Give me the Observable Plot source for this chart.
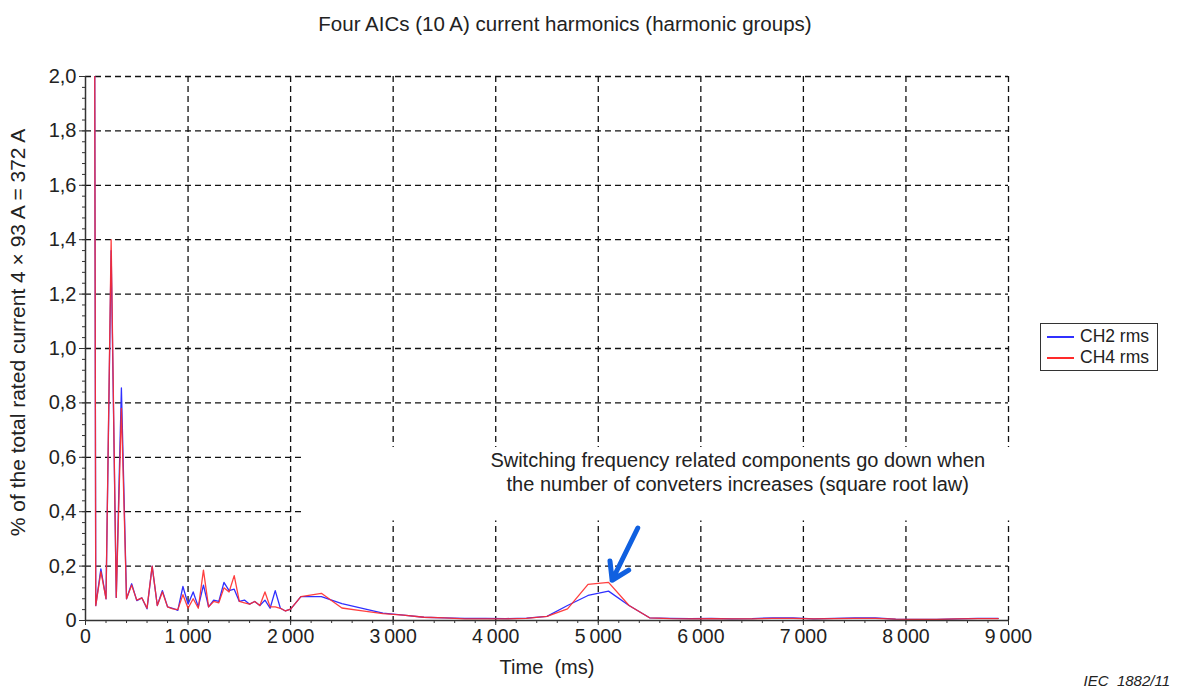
<!DOCTYPE html>
<html><head><meta charset="utf-8">
<script src="https://cdn.jsdelivr.net/npm/d3@7"></script>
<script src="https://cdn.jsdelivr.net/npm/@observablehq/plot@0.6"></script>
<style>
body{margin:0;background:#fff;font-family:"Liberation Sans",Arial,sans-serif;color:#222;}
#wrap{position:relative;width:1186px;height:690px;overflow:hidden;}
#chart{position:absolute;left:0;top:0;}
.title{position:absolute;left:0;width:1130px;top:12px;text-align:center;font-size:20.5px;}
.legend{position:absolute;left:1040px;top:323px;width:118px;height:48px;border:1.5px solid #333;box-sizing:border-box;font-size:17.5px;}
.legend .row{position:absolute;left:6px;height:21px;line-height:21px;white-space:nowrap;}
.legend .sw{display:inline-block;width:27px;height:0;border-top:2px solid;vertical-align:middle;margin-right:6px;}
.iec{position:absolute;right:16px;top:673px;font-size:15px;line-height:15px;font-style:italic;white-space:pre;}
</style></head>
<body>
<div id="wrap">
  <div id="chart"></div>
  <div class="title">Four AICs (10 A) current harmonics (harmonic groups)</div>
  <div class="legend" id="legend"></div>
  <div class="iec">IEC  1882/11</div>
</div>
<script>
// ---- data ----
const times = [50,100,150,200,250,300,350,400,450,500,550,600,650,700,750,800,850,900,950,1000,
  1050,1100,1150,1200,1250,1300,1350,1400,1450,1500,1550,1600,1650,1700,1750,1800,1850,1900,1950,2000,
  2100,2300,2500,2700,2900,3100,3300,3500,3700,3900,4100,4300,4500,4700,4900,5100,5300,5500,
  5700,5900,6100,6300,6500,6700,6900,7100,7300,7500,7700,7900,8100,8300,8500,8700,8900];
const ch2 = [10,0.055,0.19,0.08,1.36,0.085,0.855,0.08,0.135,0.073,0.083,0.043,0.2,0.055,0.11,0.05,0.045,0.037,0.125,0.06,
  0.105,0.05,0.13,0.05,0.075,0.07,0.14,0.11,0.115,0.07,0.075,0.06,0.07,0.055,0.075,0.045,0.11,0.045,0.035,0.042,
  0.088,0.088,0.062,0.045,0.027,0.02,0.012,0.01,0.008,0.008,0.007,0.009,0.015,0.055,0.092,0.108,0.055,0.01,
  0.008,0.007,0.008,0.006,0.007,0.01,0.01,0.006,0.008,0.01,0.01,0.005,0.004,0.004,0.006,0.008,0.008];
const ch4 = [10,0.055,0.18,0.08,1.40,0.085,0.78,0.08,0.13,0.075,0.083,0.045,0.2,0.055,0.105,0.05,0.043,0.04,0.095,0.045,
  0.08,0.045,0.185,0.05,0.07,0.065,0.12,0.105,0.165,0.07,0.065,0.06,0.07,0.055,0.105,0.05,0.05,0.045,0.035,0.042,
  0.088,0.1,0.046,0.035,0.025,0.02,0.012,0.01,0.006,0.006,0.006,0.008,0.015,0.043,0.133,0.14,0.055,0.01,
  0.007,0.006,0.007,0.006,0.006,0.008,0.008,0.006,0.007,0.008,0.008,0.005,0.004,0.004,0.006,0.007,0.007];
const seriesNames = ["CH2 rms","CH4 rms"];
const seriesColors = ["#3030ff","#ff2a2a"];
const xMajor = [0,1000,2000,3000,4000,5000,6000,7000,8000,9000];
const xMinor = d3.range(0,9001,200);
const yMajor = [0,0.2,0.4,0.6,0.8,1.0,1.2,1.4,1.6,1.8,2.0];
const yMinor = d3.range(0,2.001,0.04);
const xGrid = [1000,2000,3000,4000,5000,6000,7000,8000,9000];
const yGrid = [0.2,0.4,0.6,0.8,1.0,1.2,1.4,1.6,1.8,2.0];
const annotation = ["Switching frequency related components go down when\nthe number of conveters increases (square root law)"];
const annotationPos = {x:6360, y:0.547};
const maskBox = [{x1:2110, x2:9100, y1:0.366, y2:0.636}];
const arrowData = [{x1:5385, y1:0.34, x2:5135, y2:0.148}];
const yLabel = "% of the total rated current 4 \u00d7 93 A = 372 A";
const xLabel = "Time\u00a0 (ms)";

const rows = times.map((t,i)=>({t, ch2:ch2[i], ch4:ch4[i]}));
const fmtX = d => d === 0 ? "0" : d3.format(",")(d).replace(/,/g, "\u2009");
const fmtY = d => d === 0 ? "0" : d.toFixed(1).replace(".", ",");

const grid = {stroke:"#111", strokeDasharray:"6,4", strokeWidth:1.3, strokeOpacity:1};
const plot = Plot.plot({
  width:1186, height:690,
  marginLeft:85, marginRight:178, marginTop:76, marginBottom:70,
  x:{domain:[0,9000]}, y:{domain:[0,2]},
  style:{fontFamily:"Liberation Sans, Arial, sans-serif", fontSize:"19px", color:"#222", background:"white"},
  marks:[
    Plot.ruleX(xGrid, grid),
    Plot.ruleY(yGrid, grid),
    Plot.rect(maskBox, {x1:"x1", x2:"x2", y1:"y1", y2:"y2", fill:"white"}),
    Plot.line(rows, {x:"t", y:"ch2", stroke:seriesColors[0], strokeWidth:1.3, clip:true}),
    Plot.line(rows, {x:"t", y:"ch4", stroke:seriesColors[1], strokeWidth:1.3, strokeOpacity:0.9, clip:true}),
    Plot.axisX({ticks:xMinor, tickSize:3, tickFormat:()=>"", stroke:"#333"}),
    Plot.axisX({ticks:xMajor, tickSize:5, tickPadding:4, tickFormat:fmtX, label:null, stroke:"#333", fontSize:19.5}),
    Plot.axisY({ticks:yMinor, tickSize:3, tickFormat:()=>"", stroke:"#333"}),
    Plot.axisY({ticks:yMajor, tickSize:6, tickPadding:3, tickFormat:fmtY, label:null, stroke:"#333", fontSize:20}),
    Plot.ruleY([0], {stroke:"#333", strokeWidth:1.5}),
    Plot.ruleX([0], {stroke:"#333", strokeWidth:1.5}),
    Plot.text(annotation, {x:()=>annotationPos.x, y:()=>annotationPos.y, fontSize:20, lineHeight:1.2, fill:"#222"}),
    Plot.arrow(arrowData, {x1:"x1", y1:"y1", x2:"x2", y2:"y2", stroke:"#1060e0", strokeWidth:5, headLength:16, headAngle:65}),
    Plot.text([yLabel], {frameAnchor:"left", textAnchor:"middle", dx:-67, dy:-16, rotate:-90, fontSize:21, fill:"#222"}),
    Plot.text([xLabel], {frameAnchor:"bottom", dy:53, fontSize:20, fill:"#222"})
  ]
});
document.getElementById("chart").appendChild(plot);

const lg = document.getElementById("legend");
seriesNames.forEach((n,i)=>{
  const r = document.createElement("div");
  r.className = "row";
  r.style.top = (2 + i*21) + "px";
  r.innerHTML = `<span class="sw" style="border-color:${seriesColors[i]}"></span>${n}`;
  lg.appendChild(r);
});
</script>
</body></html>
